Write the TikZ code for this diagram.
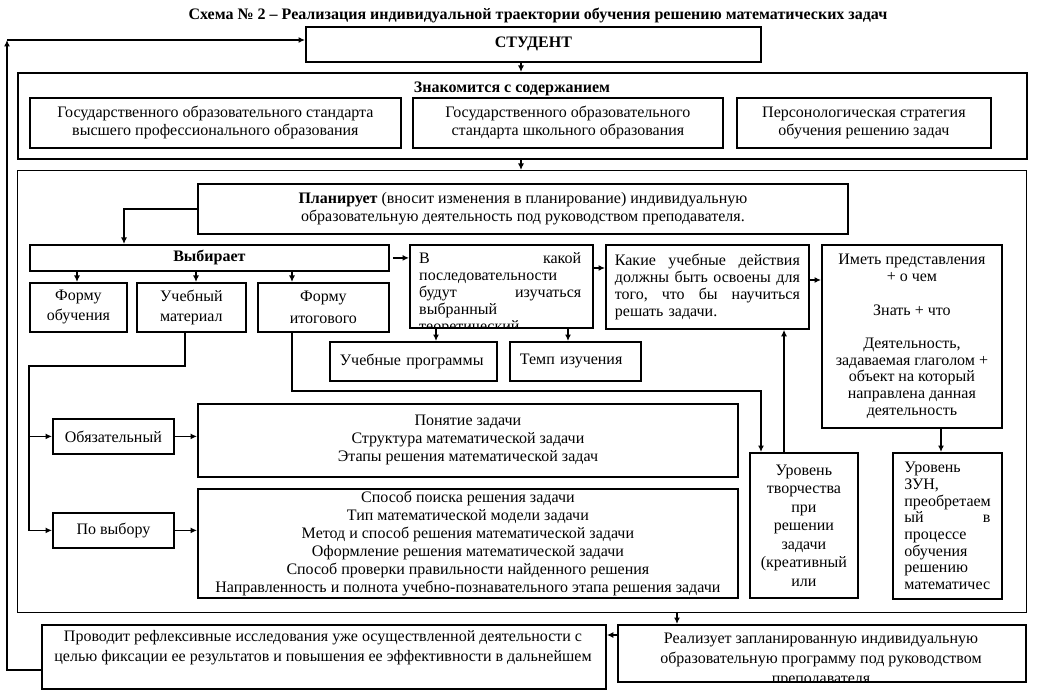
\documentclass[tikz,border=0pt]{standalone}
\usepackage{fontspec}
\setmainfont{Liberation Serif}
\usetikzlibrary{arrows.meta}
\newcommand\mfont{\fontsize{16}{18}\selectfont}
\newcommand\tfont{\fontsize{16}{18}\selectfont}
\begin{document}
\begin{tikzpicture}[x=1pt,y=-1pt,
  box/.style={draw, line width=1.8pt, inner sep=0pt, align=center, font=\mfont, anchor=north west},
  thinbox/.style={draw, line width=1pt, inner sep=0pt, anchor=north west},
  txt/.style={inner sep=0pt, font=\mfont},
  arr/.style={line width=1.8pt, -{Latex[length=6.5pt,width=6pt]}}]
\useasboundingbox (0,0) rectangle (1051,692);

\node[inner sep=0pt, font=\tfont\bfseries] (title) at (538,16) {Схема № 2 – Реализация индивидуальной траектории обучения решению математических задач};

\node[box, minimum width=455, minimum height=35] (student) at (305,26) {\bfseries СТУДЕНТ};

% Знакомится
\node[box, minimum width=1009, minimum height=86] (zn) at (17,72) {};
\node[txt, font=\mfont\bfseries] (znlab) at (512,89) {Знакомится с содержанием};
\node[box, minimum width=371, minimum height=50] (gos1) at (29,97) {Государственного образовательного стандарта\\высшего профессионального образования};
\node[box, minimum width=310, minimum height=50] (gos2) at (412,97) {Государственного образовательного\\стандарта школьного образования};
\node[box, minimum width=254, minimum height=50] (pers) at (736,97) {Персонологическая стратегия\\обучения решению задач};

% big frame
\node[thinbox, minimum width=1009, minimum height=442] (big) at (17,170) {};

\node[box, minimum width=650, minimum height=50] (plan) at (197,183) {\textbf{Планирует} (вносит изменения в планирование) индивидуальную\\образовательную деятельность под руководством преподавателя.};

\node[box, minimum width=359, minimum height=26] (vyb) at (29,244) {\bfseries Выбирает};
\node[box, minimum width=97, minimum height=49, font=\fontsize{16}{20}\selectfont] (form) at (29,282) {Форму\\обучения};
\node[box, minimum width=109, minimum height=49, font=\fontsize{16}{20}\selectfont] (uchm) at (136,282) {Учебный\\материал};
\node[box, minimum width=131, minimum height=49, font=\fontsize{16}{22}\selectfont] (itog) at (257,282) {Форму\\итогового};

\node[box, minimum width=183, minimum height=83] (vkak) at (409,244) {};
\begin{scope}
\clip (vkak.north west) rectangle (vkak.south east);
\node[anchor=north west, inner sep=0pt, text width=162pt, align=left, font=\fontsize{16}{17}\selectfont] (vkaktxt) at (419,252)
  {\makebox[162pt][l]{В\hfill какой}\\последовательности\\\makebox[162pt][l]{будут\hfill изучаться}\\выбранный\\теоретический};
\end{scope}

\node[box, minimum width=203, minimum height=84, text width=185pt, align=left, font=\fontsize{16}{17}\selectfont] (kakie) at (605,244)
  {\makebox[185pt]{Какие\hfill учебные\hfill действия}\\\makebox[185pt]{должны\hfill быть\hfill освоены\hfill для}\\\makebox[185pt]{того,\hfill что\hfill бы\hfill научиться}\\решать задачи.};

\node[box, minimum width=180, minimum height=183, font=\fontsize{16}{16.7}\selectfont] (imet) at (821,244)
  {Иметь представления\\+ о чем\\\mbox{}\\Знать + что\\\mbox{}\\Деятельность,\\задаваемая глаголом +\\объект на который\\направлена данная\\деятельность};

\node[box, minimum width=167, minimum height=39, text width=147pt, align=left] (uprog) at (329,341) {Учебные программы};
\node[box, minimum width=131, minimum height=39, text width=111pt, align=left] (temp) at (509,341) {Темп изучения};

\node[box, minimum width=121, minimum height=35] (obyaz) at (52,418) {Обязательный};
\node[box, minimum width=121, minimum height=35] (povyb) at (52,512) {По выбору};

\node[box, minimum width=540, minimum height=73] (ponyat) at (197,403) {Понятие задачи\\Структура математической задачи\\Этапы решения математической задач};
\node[box, minimum width=540, minimum height=109] (sposob) at (197,488) {Способ поиска решения задачи\\Тип математической модели задачи\\Метод и способ решения математической задачи\\Оформление решения математической задачи\\Способ проверки правильности найденного решения\\Направленность и полнота учебно-познавательного этапа решения задачи};

\node[box, minimum width=108, minimum height=145, font=\fontsize{16}{18.5}\selectfont] (tvor) at (749,452) {Уровень\\творчества\\при\\решении\\задачи\\(креативный\\или};
\node[box, minimum width=109, minimum height=146, text width=86pt, align=left, font=\fontsize{16}{16.7}\selectfont] (zun) at (892,452) {Уровень\\ЗУН,\\преобретаем\\\makebox[86pt]{ый\hfill в}\\процессе\\обучения\\решению\\математичес};

\node[box, minimum width=408, minimum height=57] (real) at (617,624) {};
\begin{scope}
\clip (real.north west) rectangle (real.south east);
\node[anchor=north, inner sep=0pt, align=center, font=\fontsize{16}{20}\selectfont] (realtxt) at (821,633)
  {Реализует запланированную индивидуальную\\образовательную программу под руководством\\преподавателя};
\end{scope}

\node[box, minimum width=564, minimum height=64] (provod) at (41,624) {};
\node[txt, align=center, font=\fontsize{16}{20}\selectfont] (provodtxt) at (323,648) {Проводит рефлексивные исследования уже осуществленной деятельности с\\целью фиксации ее результатов и повышения ее эффективности в дальнейшем};

% connectors
\draw[arr] (521,0 |- student.south) -- (521,0 |- zn.north);
\draw[arr] (521,0 |- zn.south) -- (521,0 |- big.north);
\draw[arr] (plan.west) -| (124,0 |- vyb.north);
\draw[arr] (77,0 |- vyb.south) -- (77,0 |- form.north);
\draw[arr] (196,0 |- vyb.south) -- (196,0 |- uchm.north);
\draw[arr] (292,0 |- vyb.south) -- (292,0 |- itog.north);
\draw[arr] ([xshift=3pt]vyb.east) -- (vkak.west |- vyb.east);
\draw[arr] (vkak.east |- 0,268) -- (kakie.west |- 0,268);
\draw[arr] (436,0 |- vkak.south) -- (436,0 |- uprog.north);
\draw[arr] (568,0 |- vkak.south) -- (568,0 |- temp.north);
\draw[arr] (kakie.east |- 0,280) -- (imet.west |- 0,280);
\draw[arr] (185,0 |- uchm.south) |- (29,366) |- (povyb.west);
\draw[arr] (29,0 |- obyaz.west) -- (obyaz.west);
\draw[arr] (obyaz.east) -- (ponyat.west |- obyaz.east);
\draw[arr] (povyb.east) -- (sposob.west |- povyb.east);
\draw[arr] (292,0 |- itog.south) |- (761,391) -- (761,0 |- tvor.north);
\draw[arr] (784,0 |- tvor.north) -- (784,0 |- kakie.south);
\draw[arr] (941,0 |- imet.south) -- (941,0 |- zun.north);
\draw[arr] (677,0 |- big.south) -- (677,0 |- real.north);
\draw[arr] (real.west |- 0,635) -- (provod.east |- 0,635);
\coordinate (corner) at (7,40);
\draw[arr] (provod.west |- 0,670) -| (corner);
\draw[arr] (corner) -- (student.west |- corner);
\end{tikzpicture}
\end{document}
